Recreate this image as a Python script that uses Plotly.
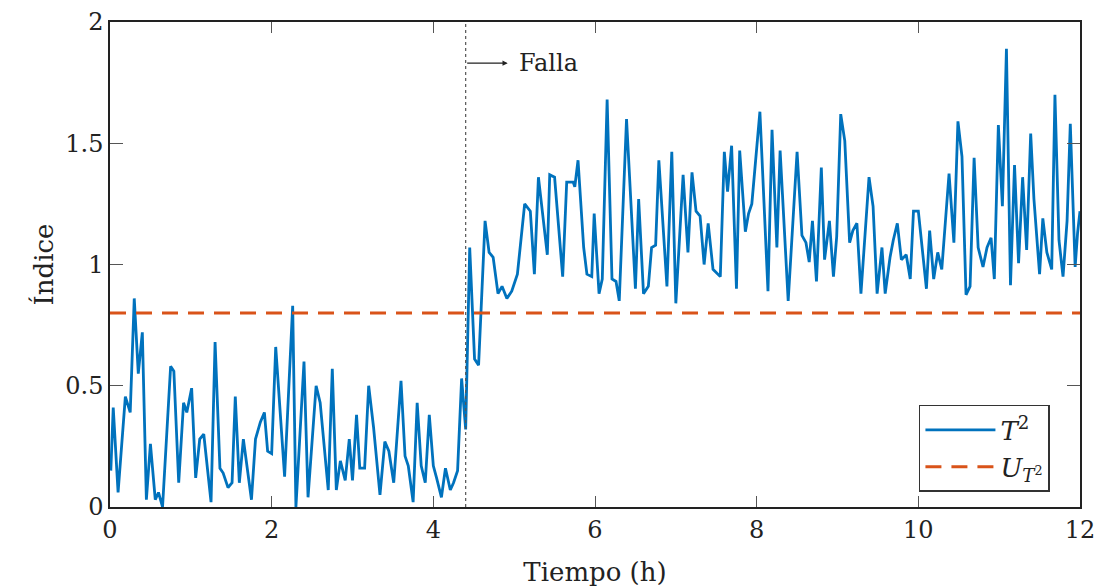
import plotly.graph_objects as go

# Time (h) and T^2 index
tiempo = [0.01, 0.04, 0.10, 0.19, 0.25, 0.30, 0.35, 0.40, 0.45, 0.50, 0.56, 0.60, 0.65, 0.75, 0.79,
          0.85, 0.91, 0.95, 1.01, 1.06, 1.11, 1.16, 1.25, 1.30, 1.36, 1.40, 1.46, 1.51, 1.55, 1.60,
          1.65, 1.75, 1.80, 1.86, 1.91, 1.95, 2.00, 2.05, 2.16, 2.26, 2.30, 2.40, 2.45, 2.55, 2.60,
          2.70, 2.75, 2.80, 2.85, 2.91, 2.96,
          3.00, 3.05, 3.09, 3.15, 3.20, 3.26, 3.34, 3.40, 3.45, 3.51, 3.60, 3.65, 3.69, 3.75, 3.80,
          3.85, 3.90, 3.95, 4.00, 4.04, 4.10, 4.15, 4.21, 4.25, 4.30, 4.35, 4.38, 4.40, 4.45, 4.51,
          4.56, 4.64, 4.69, 4.74, 4.80, 4.85, 4.91, 4.97, 5.04, 5.13, 5.20, 5.25, 5.30, 5.41, 5.44,
          5.50, 5.60, 5.65, 5.73, 5.75, 5.79, 5.86, 5.90,
          5.96, 5.99, 6.05, 6.09, 6.15, 6.21, 6.26, 6.30, 6.39, 6.50, 6.54, 6.60, 6.66, 6.70, 6.75,
          6.79, 6.89, 6.95, 7.00, 7.09, 7.15, 7.20, 7.25, 7.30, 7.35, 7.40, 7.46, 7.55, 7.60, 7.64,
          7.69, 7.75, 7.79, 7.86, 7.90, 7.94, 8.04, 8.14, 8.19, 8.25, 8.29, 8.39, 8.50, 8.56, 8.61,
          8.65, 8.69, 8.74, 8.80, 8.84, 8.90,
          8.95, 8.99, 9.04, 9.09, 9.15, 9.19, 9.24, 9.29, 9.39, 9.44, 9.49, 9.55, 9.59, 9.65, 9.69,
          9.74, 9.79, 9.85, 9.90, 9.94, 10.00, 10.05, 10.10, 10.14, 10.19, 10.24, 10.29, 10.34, 10.38,
          10.44, 10.49, 10.54, 10.59, 10.64, 10.69, 10.74, 10.80, 10.85, 10.90, 10.94, 10.99, 11.04,
          11.09, 11.14, 11.19, 11.24, 11.29, 11.34, 11.39, 11.43, 11.50, 11.54, 11.59, 11.65, 11.69,
          11.74, 11.79, 11.84, 11.88, 11.94, 11.97, 12.00]

t2 = [0.15, 0.41, 0.06, 0.455, 0.39, 0.86, 0.55, 0.72, 0.03, 0.26, 0.03, 0.06, 0.00, 0.58, 0.56,
      0.10, 0.43, 0.39, 0.49, 0.12, 0.28, 0.30, 0.02, 0.68, 0.16, 0.14, 0.08, 0.10, 0.455, 0.10,
      0.28, 0.03, 0.28, 0.35, 0.39, 0.23, 0.22, 0.66, 0.125, 0.83, 0.00, 0.60, 0.04, 0.50, 0.43,
      0.07, 0.57, 0.07, 0.19, 0.11, 0.28,
      0.11, 0.38, 0.16, 0.16, 0.50, 0.33, 0.05, 0.27, 0.23, 0.10, 0.52, 0.21, 0.17, 0.02, 0.43,
      0.17, 0.10, 0.38, 0.17, 0.12, 0.04, 0.16, 0.07, 0.10, 0.15, 0.53, 0.41, 0.32, 1.07, 0.61,
      0.585, 1.18, 1.05, 1.03, 0.88, 0.91, 0.86, 0.89, 0.96, 1.25, 1.22, 0.96, 1.36, 1.04, 1.37,
      1.36, 0.95, 1.34, 1.34, 1.32, 1.43, 1.07, 0.96,
      0.95, 1.21, 0.88, 0.94, 1.68, 0.94, 0.93, 0.85, 1.60, 0.90, 1.27, 0.88, 0.91, 1.07, 1.08,
      1.43, 0.91, 1.465, 0.84, 1.37, 1.05, 1.38, 1.22, 1.20, 1.00, 1.17, 0.98, 0.95, 1.465, 1.30,
      1.49, 0.90, 1.47, 1.135, 1.21, 1.25, 1.63, 0.89, 1.555, 1.07, 1.47, 0.85, 1.465, 1.12, 1.09,
      1.01, 1.18, 0.93, 1.40, 1.02, 1.18,
      0.95, 1.115, 1.62, 1.51, 1.09, 1.14, 1.17, 0.88, 1.36, 1.24, 0.88, 1.07, 0.88, 1.03, 1.10,
      1.17, 1.02, 1.04, 0.94, 1.22, 1.22, 1.06, 0.90, 1.14, 0.94, 1.05, 0.98, 1.20, 1.375,
      1.09, 1.59, 1.445, 0.875, 0.91, 1.44, 1.07, 0.99, 1.07, 1.11, 0.94, 1.575, 1.24,
      1.89, 0.915, 1.41, 1.005, 1.36, 1.06, 1.54, 1.27, 0.96, 1.19, 1.05, 0.98, 1.70,
      1.10, 0.95, 1.18, 1.58, 0.99, 1.13, 1.22]

limite = 0.8
t_falla = 4.4
x_rango = [0, 12]
y_rango = [0, 2]
x_ticks = [0, 2, 4, 6, 8, 10, 12]
y_ticks = [0, 0.5, 1, 1.5, 2]
y_ticklabels = ["0", "0.5", "1", "1.5", "2"]

FONT = "DejaVu Serif"
AZUL = "#0072BD"
NARANJA = "#D95319"

fig = go.Figure()
fig.add_trace(go.Scatter(x=tiempo, y=t2, mode="lines", name="<i>T</i><sup>2</sup>",
                         line=dict(color=AZUL, width=2.8)))
fig.add_trace(go.Scatter(x=x_rango, y=[limite, limite], mode="lines",
                         name="<i>U</i><sub><i>T</i><sup>2</sup></sub>",
                         line=dict(color=NARANJA, width=3, dash="16px,10px")))

# fault line
fig.add_trace(go.Scatter(x=[t_falla, t_falla], y=y_rango, mode="lines", showlegend=False,
                         line=dict(color="#555555", width=1.2, dash="dot"), hoverinfo="skip"))

fig.add_annotation(x=4.92, y=1.83, ax=t_falla, ay=1.83, xref="x", yref="y", axref="x", ayref="y",
                   showarrow=True, arrowhead=2, arrowsize=0.8, arrowwidth=1.3, arrowcolor="#222222",
                   text="")
fig.add_annotation(x=5.04, y=1.83, xref="x", yref="y", text="Falla", showarrow=False,
                   xanchor="left", yanchor="middle", font=dict(family=FONT, size=24, color="#222222"))

fig.update_layout(
    width=1097, height=588,
    margin=dict(l=110, r=17, t=22, b=81),
    paper_bgcolor="white", plot_bgcolor="white",
    font=dict(family=FONT, size=24, color="#222222"),
    showlegend=True,
    legend=dict(x=0.969, y=0.031, xanchor="right", yanchor="bottom",
                bgcolor="white", bordercolor="#333333", borderwidth=1.5,
                font=dict(family=FONT, size=26, color="#222222"),
                itemwidth=70, tracegroupgap=8),
)
fig.update_xaxes(range=x_rango, tickvals=x_ticks, ticks="inside", ticklen=11, tickcolor="#555555",
                 showline=True, linecolor="#222222", linewidth=1.5, mirror="allticks",
                 showgrid=False, zeroline=False, automargin=False,
                 title=dict(text="Tiempo (h)", standoff=20, font=dict(family=FONT, size=26)))
fig.update_yaxes(range=y_rango, tickvals=y_ticks, ticktext=y_ticklabels, ticks="inside", ticklen=13,
                 tickcolor="#555555",
                 showline=True, linecolor="#222222", linewidth=1.5, mirror="allticks",
                 showgrid=False, zeroline=False, automargin=False,
                 title=dict(text="Índice", standoff=4, font=dict(family=FONT, size=26)))

fig.write_html("out.html")
